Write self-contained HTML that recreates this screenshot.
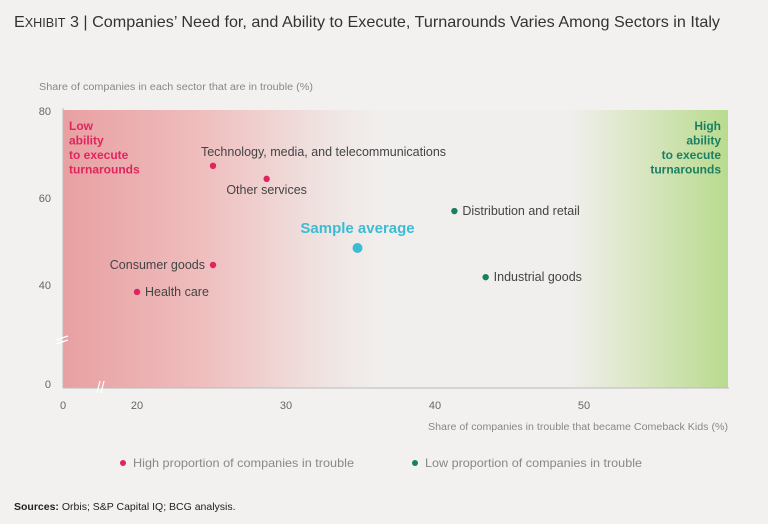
<!DOCTYPE html>
<html><head><meta charset="utf-8"><style>
body{margin:0;background:#f2f1f0;width:768px;height:524px;overflow:hidden;font-family:"Liberation Sans",sans-serif;}
svg{display:block}
</style></head><body>
<svg width="768" height="524" xmlns="http://www.w3.org/2000/svg">
<defs>
<linearGradient id="bg" x1="63" x2="728" gradientUnits="userSpaceOnUse">
<stop offset="0" stop-color="#e8a0a2"/>
<stop offset="0.2" stop-color="#efbcbc"/>
<stop offset="0.4" stop-color="#efe5e3"/>
<stop offset="0.48" stop-color="#f1efed"/>
<stop offset="0.76" stop-color="#f1efed"/>
<stop offset="0.86" stop-color="#dbe7c6"/>
<stop offset="1" stop-color="#b9db8e"/>
</linearGradient>
</defs>
<text x="14" y="27" font-size="16" fill="#333" textLength="706" lengthAdjust="spacingAndGlyphs"><tspan font-size="16">E</tspan><tspan font-size="12.5">XHIBIT</tspan> 3 | Companies’ Need for, and Ability to Execute, Turnarounds Varies Among Sectors in Italy</text>
<text x="39" y="90" font-size="10" fill="#888" textLength="274" lengthAdjust="spacingAndGlyphs">Share of companies in each sector that are in trouble (%)</text>
<rect x="63" y="110" width="665" height="278" fill="url(#bg)"/>
<line x1="63" y1="388" x2="729" y2="388" stroke="#bbb" stroke-width="1"/>
<line x1="63" y1="108" x2="63" y2="388" stroke="#bbb" stroke-width="1"/>
<g stroke="#fff" stroke-width="1.2"><line x1="56" y1="340" x2="68" y2="336"/><line x1="56" y1="344" x2="68" y2="340"/></g>
<g stroke="#fff" stroke-width="1.2"><line x1="97" y1="393" x2="100" y2="381"/><line x1="101" y1="393" x2="104" y2="381"/></g>
<text font-size="12" font-weight="bold" fill="#e0245e"><tspan x="69" y="130">Low</tspan><tspan x="69" dy="14.5">ability</tspan><tspan x="69" dy="14.5">to execute</tspan><tspan x="69" dy="14.5">turnarounds</tspan></text>
<text font-size="12" font-weight="bold" fill="#1a7f62" text-anchor="end"><tspan x="721" y="130">High</tspan><tspan x="721" dy="14.5">ability</tspan><tspan x="721" dy="14.5">to execute</tspan><tspan x="721" dy="14.5">turnarounds</tspan></text>
<g id="yticks"></g><g id="xticks"></g><g id="pts"></g>
<text x="728" y="430" font-size="10" fill="#888" text-anchor="end" textLength="300" lengthAdjust="spacingAndGlyphs">Share of companies in trouble that became Comeback Kids (%)</text>
<circle cx="123" cy="463" r="3" fill="#e0245e"/>
<text x="133" y="467" font-size="12" fill="#888" textLength="221" lengthAdjust="spacingAndGlyphs">High proportion of companies in trouble</text>
<circle cx="415" cy="463" r="3" fill="#1a7f62"/>
<text x="425" y="467" font-size="12" fill="#888" textLength="217" lengthAdjust="spacingAndGlyphs">Low proportion of companies in trouble</text>
<text x="14" y="510" font-size="10.5" fill="#222"><tspan font-weight="bold">Sources:</tspan> Orbis; S&amp;P Capital IQ; BCG analysis.</text>
</svg>
<script>
const names=["Technology, media, and telecommunications","Other services","Consumer goods","Health care","Sample average","Distribution and retail","Industrial goods"];
const xVals=[25.1,28.7,25.1,20.0,34.8,41.3,43.4];
const yVals=[67.4,64.4,44.6,38.4,48.5,57.0,41.8];
const groups=["high","high","high","high","avg","low","low"];
const xTicks=[20,30,40,50];
const yTicks=[40,60,80];
const NS="http://www.w3.org/2000/svg";
function xs(v){return 137+(v-20)*14.9;}
function ys(v){return 198-(v-60)*4.35;}
function mk(t,a,txt){const e=document.createElementNS(NS,t);for(const k in a)e.setAttribute(k,a[k]);if(txt!=null)e.textContent=txt;return e;}
const yt=document.getElementById('yticks'),xt=document.getElementById('xticks'),pg=document.getElementById('pts');
yTicks.forEach(v=>{const e=mk('text',{x:51,y:ys(v)+4,'font-size':11,fill:'#666','text-anchor':'end'},v);

yt.appendChild(e);});
const y0=mk('text',{x:51,y:388,'font-size':11,fill:'#666','text-anchor':'end'},'0');

yt.appendChild(y0);
const x0=mk('text',{x:63,y:409,'font-size':11,fill:'#666','text-anchor':'middle'},'0');

xt.appendChild(x0);
xTicks.forEach(v=>{const e=mk('text',{x:xs(v),y:409,'font-size':11,fill:'#666','text-anchor':'middle'},v);

xt.appendChild(e);});
const col={high:'#e0245e',low:'#1a7f62',avg:'#3cbcd3'};
names.forEach((n,i)=>{const cx=xs(xVals[i]),cy=ys(yVals[i]);
const c=mk('circle',{cx:cx,cy:cy,r:groups[i]=='avg'?5:3.2,fill:col[groups[i]]});

pg.appendChild(c);
let a={x:cx+8,y:cy+4,'font-size':12.5,fill:'#444'};
if(i==0){a={x:cx-12,y:cy-10,'font-size':12.5,fill:'#444'};}
if(i==1){a.x=cx;a.y=cy+15;a['text-anchor']='middle';}
if(i==2){a.x=cx-8;a['text-anchor']='end';}
if(i==4){a={x:cx,y:cy-15,'font-size':15,'font-weight':'bold',fill:'#3cbcd3','text-anchor':'middle'};}
const t=mk('text',a,n);

pg.appendChild(t);});
</script>
</body></html>
